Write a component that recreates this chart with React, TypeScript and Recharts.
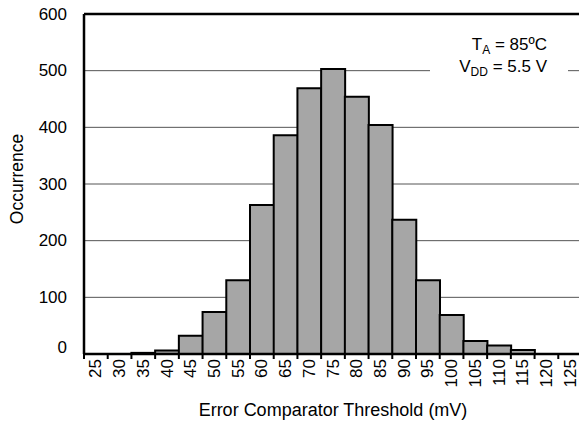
import { BarChart, Bar, XAxis, YAxis, CartesianGrid, ReferenceLine } from 'recharts';

const thresholds = [25, 30, 35, 40, 45, 50, 55, 60, 65, 70, 75, 80, 85, 90, 95, 100, 105, 110, 115, 120, 125];
const occurrences = [0, 0, 2, 6, 32, 74, 130, 263, 386, 469, 503, 454, 404, 237, 130, 69, 23, 15, 7, 0, 0];
const yTicks = [0, 100, 200, 300, 400, 500, 600];

const data = thresholds.map((t, i) => ({ mv: String(t), count: occurrences[i] }));

const FONT = '"Liberation Sans", Arial, Helvetica, sans-serif';
const W = 582;
const H = 423;
const Y_AXIS_W = 84;
const bandWidth = (W - Y_AXIS_W) / thresholds.length;

const XTick = ({ x, y, payload }: any) => (
  <g>
    <line x1={x - bandWidth / 2} y1={y} x2={x - bandWidth / 2} y2={y + 5} stroke="#000" strokeWidth={2} />
    <text
      x={x}
      y={y + 5}
      transform={`rotate(-90, ${x}, ${y + 5})`}
      textAnchor="end"
      dominantBaseline="central"
      fontSize={17}
      fontFamily={FONT}
      fill="#000"
    >
      {payload.value}
    </text>
  </g>
);

const YTick = ({ x, y, payload }: any) => (
  <text
    x={x}
    y={payload.value === 0 ? y - 7 : y}
    textAnchor="end"
    dominantBaseline="central"
    fontSize={17}
    fontFamily={FONT}
    fill="#000"
  >
    {payload.value}
  </text>
);

const YLabel = ({ viewBox }: any) => {
  const cx = 17;
  const cy = viewBox.y + viewBox.height / 2 - 5;
  return (
    <text
      x={cx}
      y={cy}
      transform={`rotate(-90, ${cx}, ${cy})`}
      textAnchor="middle"
      dominantBaseline="central"
      fontSize={17.5}
      fontFamily={FONT}
      fill="#000"
    >
      Occurrence
    </text>
  );
};

const XLabel = ({ viewBox }: any) => (
  <text
    x={viewBox.x + viewBox.width / 2}
    y={viewBox.y + 56}
    textAnchor="middle"
    dominantBaseline="central"
    fontSize={18}
    fontFamily={FONT}
    fill="#000"
  >
    Error Comparator Threshold (mV)
  </text>
);

export default function App() {
  return (
    <div style={{ position: 'fixed', left: 0, top: 0, width: 579, height: 423, overflow: 'hidden', background: '#fff' }}>
      <BarChart
        width={W}
        height={H}
        data={data}
        margin={{ top: 14, right: 0, bottom: 0, left: 0 }}
        barCategoryGap={0}
        barGap={0}
      >
        <CartesianGrid vertical={false} stroke="#555" strokeWidth={1} />
        <XAxis
          dataKey="mv"
          interval={0}
          height={69}
          tickSize={0}
          tickMargin={0}
          tickLine={false}
          axisLine={{ stroke: '#000', strokeWidth: 2.5 }}
          tick={<XTick />}
          label={<XLabel />}
        />
        <YAxis
          width={Y_AXIS_W}
          domain={[0, 600]}
          ticks={yTicks}
          tickLine={false}
          tickSize={6}
          tickMargin={11}
          axisLine={{ stroke: '#000', strokeWidth: 2.5 }}
          tick={<YTick />}
          label={<YLabel />}
        />
        <ReferenceLine y={600} stroke="#000" strokeWidth={2.5} />
        <Bar dataKey="count" fill="#a6a6a6" stroke="#000" strokeWidth={2} isAnimationActive={false} />
      </BarChart>
      <div
        style={{
          position: 'absolute',
          left: 430,
          top: 34,
          width: 138,
          height: 44,
          background: '#fff',
          fontFamily: FONT,
          fontSize: 17,
          lineHeight: '22px',
          textAlign: 'right',
          color: '#000',
          boxSizing: 'border-box',
          paddingRight: 21,
        }}
      >
        <div>
          T<sub style={{ fontSize: 12, verticalAlign: -4, lineHeight: 0 }}>A</sub> = 85ºC
        </div>
        <div>
          V<sub style={{ fontSize: 12, verticalAlign: -4, lineHeight: 0 }}>DD</sub> = 5.5 V
        </div>
      </div>
    </div>
  );
}
